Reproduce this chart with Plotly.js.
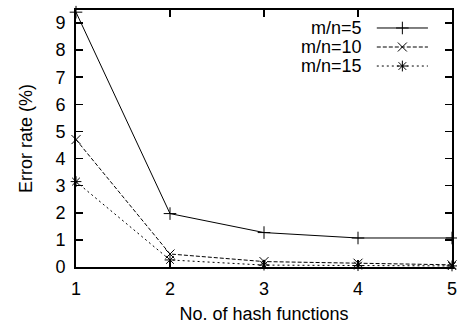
<!DOCTYPE html>
<html><head><meta charset="utf-8">
<script src="https://cdn.plot.ly/plotly-3.0.1.min.js"></script>
<style>html,body{margin:0;padding:0;background:#fff}</style>
</head><body>
<div id="chart" style="width:457px;height:324px"></div>
<script>
const hashFunctions = [1, 2, 3, 4, 5];
const seriesNames = ['m/n=5', 'm/n=10', 'm/n=15'];
const errMN5  = [9.4, 1.97, 1.27, 1.07, 1.07];
const errMN10 = [4.7, 0.48, 0.2, 0.14, 0.08];
const errMN15 = [3.15, 0.26, 0.07, 0.05, 0.04];
const yTicks = [0,1,2,3,4,5,6,7,8,9];

const styles = [
  {dash:'solid', symbol:'cross-thin-open'},
  {dash:'4px,2px', symbol:'x-thin-open'},
  {dash:'2px,3px', symbol:'asterisk-open'}
];
const values = [errMN5, errMN10, errMN15];
const font = {family:'Liberation Sans, Arial, sans-serif', size:18, color:'#000'};

const traces = values.map((v,i)=>({
  x: hashFunctions, y: v, type:'scatter', mode:'lines+markers', name: seriesNames[i],
  line:{color:'#000', width:1, dash:styles[i].dash},
  marker:{symbol:styles[i].symbol, size:9, color:'#000', line:{color:'#000', width:1}},
  showlegend:false, cliponaxis:false
}));

// gnuplot-style key: text on the left, sample on the right
const keyRows = [0.93, 0.856, 0.782];
const keyLine = [0.80, 0.936];
const keyMark = 0.868;
const keyText = 0.765;
const annotations = [];
values.forEach((v,i)=>{
  traces.push({x:keyLine, y:[keyRows[i], keyRows[i]], xaxis:'x2', yaxis:'y2', mode:'lines',
    line:{color:'#000', width:1, dash:styles[i].dash}, showlegend:false, hoverinfo:'skip'});
  traces.push({x:[keyMark], y:[keyRows[i]], xaxis:'x2', yaxis:'y2', mode:'markers',
    marker:{symbol:styles[i].symbol, size:9, color:'#000', line:{color:'#000', width:1}},
    showlegend:false, hoverinfo:'skip'});
  annotations.push({xref:'paper', yref:'paper', x:keyText, y:keyRows[i], xanchor:'right', yanchor:'middle',
    text: seriesNames[i], showarrow:false, font:font});
});

const layout = {
  width:457, height:324,
  margin:{l:76, r:5, t:10, b:57},
  paper_bgcolor:'#fff', plot_bgcolor:'#fff',
  font:font,
  showlegend:false,
  xaxis:{range:[1,5], tickvals:hashFunctions, ticks:'inside', ticklen:7, tickwidth:1.5, tickcolor:'#000',
    showline:true, linecolor:'#000', linewidth:2, mirror:'ticks', showgrid:false, zeroline:false,
    ticklabelstandoff:4, ticklabeloverflow:'allow',
    title:{text:'No. of hash functions', font:font, standoff:10}, tickfont:font},
  yaxis:{range:[0,9.48], tickvals:yTicks, ticks:'inside', ticklen:7, tickwidth:1.5, tickcolor:'#000',
    showline:true, linecolor:'#000', linewidth:2, mirror:'ticks', showgrid:false, zeroline:false,
    ticklabelstandoff:5, ticklabeloverflow:'allow',
    title:{text:'Error rate (%)', font:font, standoff:18}, tickfont:font},
  xaxis2:{range:[0,1], overlaying:'x', visible:false, fixedrange:true},
  yaxis2:{range:[0,1], overlaying:'y', visible:false, fixedrange:true},
  annotations:annotations
};
Plotly.newPlot('chart', traces, layout, {displayModeBar:false, staticPlot:true});
</script>
</body></html>
